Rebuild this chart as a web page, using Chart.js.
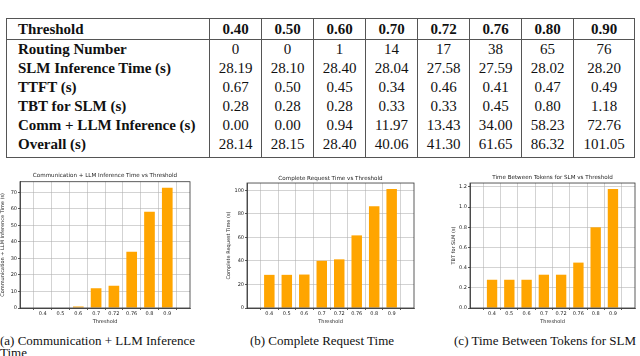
<!DOCTYPE html>
<html>
<head>
<meta charset="utf-8">
<script src="https://cdn.jsdelivr.net/npm/chart.js@4.4.1/dist/chart.umd.min.js"></script>
<style>
html, body { margin: 0; padding: 0; background: #fff; width: 640px; height: 356px; overflow: hidden; }
body { position: relative; }
#tbl { position: absolute; left: 6px; top: 18px; width: 628px; border-collapse: collapse; table-layout: fixed;
  font-family: "Liberation Serif", "Times New Roman", serif; font-size: 15px; color: #111; border: 1px solid #555; }
#tbl td, #tbl th { padding: 0; height: 19px; line-height: 19px; border-left: 1px solid #555; border-right: 1px solid #555;
  text-align: center; white-space: nowrap; font-weight: normal; }
#tbl th { height: 20px; line-height: 20px; border-bottom: 1px solid #555; font-weight: bold; }
#tbl .lab { text-align: left; padding-left: 11px; font-weight: bold; }
#tbl tr.last td { height: 22px; vertical-align: top; }
canvas { position: absolute; }
.cap { position: absolute; font-family: "Liberation Serif", "Times New Roman", serif; font-size: 13px; color: #111;
  white-space: nowrap; line-height: 12px; }
</style>
</head>
<body>
<table id="tbl">
  <colgroup><col style="width:203px"><col style="width:52px"><col style="width:52px"><col style="width:52px">
  <col style="width:52px"><col style="width:52px"><col style="width:52px"><col style="width:52px"><col style="width:61px"></colgroup>
  <thead><tr id="hdr"></tr></thead>
  <tbody id="rows"></tbody>
</table>

<canvas id="c1" width="198" height="160" style="left:0px;top:168px"></canvas>
<canvas id="c2" width="199" height="160" style="left:226px;top:168px"></canvas>
<canvas id="c3" width="189" height="160" style="left:451px;top:168px"></canvas>

<div class="cap" style="left:0px;top:335px">(a) Communication + LLM Inference<br>Time</div>
<div class="cap" style="left:322px;top:335px;transform:translateX(-50%)">(b) Complete Request Time</div>
<div class="cap" style="left:545px;top:335px;transform:translateX(-50%)">(c) Time Between Tokens for SLM</div>

<script>
const thresholds = [0.40, 0.50, 0.60, 0.70, 0.72, 0.76, 0.80, 0.90];
const routingNumber = [0, 0, 1, 14, 17, 38, 65, 76];
const slmTime = [28.19, 28.10, 28.40, 28.04, 27.58, 27.59, 28.02, 28.20];
const ttft = [0.67, 0.50, 0.45, 0.34, 0.46, 0.41, 0.47, 0.49];
const tbtSlm = [0.28, 0.28, 0.28, 0.33, 0.33, 0.45, 0.80, 1.18];
const commLlm = [0.00, 0.00, 0.94, 11.97, 13.43, 34.00, 58.23, 72.76];
const overall = [28.14, 28.15, 28.40, 40.06, 41.30, 61.65, 86.32, 101.05];
const tickLabels = thresholds.map(t => String(t));

// table
const hdr = document.getElementById('hdr');
hdr.innerHTML = '<th class="lab">Threshold</th>' + thresholds.map(t => '<th>' + t.toFixed(2) + '</th>').join('');
const tableRows = [
  ['Routing Number', routingNumber.map(v => String(v))],
  ['SLM Inference Time (s)', slmTime.map(v => v.toFixed(2))],
  ['TTFT (s)', ttft.map(v => v.toFixed(2))],
  ['TBT for SLM (s)', tbtSlm.map(v => v.toFixed(2))],
  ['Comm + LLM Inference (s)', commLlm.map(v => v.toFixed(2))],
  ['Overall (s)', overall.map(v => v.toFixed(2))]
];
document.getElementById('rows').innerHTML = tableRows.map((r, i) =>
  '<tr' + (i === tableRows.length - 1 ? ' class="last"' : '') + '><td class="lab">' + r[0] + '</td>' +
  r[1].map(v => '<td>' + v + '</td>').join('') + '</tr>').join('');

// charts
const frame = {
  id: 'frame',
  afterDraw(chart) {
    const { ctx, chartArea: a } = chart;
    ctx.save();
    ctx.strokeStyle = '#333';
    ctx.lineWidth = 0.8;
    ctx.strokeRect(a.left, a.top, a.right - a.left, a.bottom - a.top);
    ctx.restore();
  }
};

const tickFont = { family: 'DejaVu Sans', size: 5 };
const gridColor = 'rgba(176,176,176,0.7)';

function barChart(id, values, title, yLabel, step, fmt, yWidth, padRight, titlePad) {
  const xs = values.map((v, i) => ({ x: i, y: v }));
  new Chart(document.getElementById(id), {
    type: 'bar',
    data: { datasets: [{ data: xs, backgroundColor: '#ffa500', borderWidth: 0, categoryPercentage: 1, barPercentage: 0.6 }] },
    options: {
      responsive: false,
      animation: false,
      layout: { padding: { left: 0, right: padRight, top: 0, bottom: 3 } },
      plugins: {
        legend: { display: false },
        tooltip: { enabled: false },
        title: { display: true, fullSize: false, text: title, color: '#222',
          font: { family: 'DejaVu Sans', size: 5.6, weight: 'normal' }, padding: titlePad }
      },
      scales: {
        x: {
          type: 'linear', min: -0.68, max: 7.68,
          afterBuildTicks: ax => { ax.ticks = thresholds.map((t, i) => ({ value: i })); },
          afterFit: ax => { ax.height = 17; },
          ticks: { callback: v => tickLabels[v], font: tickFont, color: '#222', padding: 1, autoSkip: false, maxRotation: 0 },
          grid: { color: gridColor, lineWidth: 0.8, tickLength: 2, tickColor: '#333' },
          border: { display: true, color: '#333', width: 0.8 },
          title: { display: true, text: 'Threshold', font: tickFont, color: '#222', padding: 0 }
        },
        y: {
          min: 0, max: Math.max(...values) * 1.05,
          afterFit: ax => { ax.width = yWidth; },
          ticks: { stepSize: step, includeBounds: false, callback: fmt, font: tickFont, color: '#222', padding: 1 },
          grid: { color: gridColor, lineWidth: 0.8, tickLength: 2, tickColor: '#333' },
          border: { display: true, color: '#333', width: 0.8 },
          title: { display: true, text: yLabel, font: tickFont, color: '#222', padding: 0 }
        }
      }
    },
    plugins: [frame]
  });
}

barChart('c1', commLlm, 'Communication + LLM Inference Time vs Threshold', 'Communication + LLM Inference Time (s)',
  10, v => String(v), 20, 8, { top: 4.4, bottom: 2.6 });
barChart('c2', overall, 'Complete Request Time vs Threshold', 'Complete Request Time (s)',
  20, v => String(v), 21, 11, { top: 7.4, bottom: 0.9 });
barChart('c3', tbtSlm, 'Time Between Tokens for SLM vs Threshold', 'TBT for SLM (s)',
  0.2, v => v.toFixed(1), 19, 5, { top: 6.1, bottom: 2.2 });
</script>
</body>
</html>
